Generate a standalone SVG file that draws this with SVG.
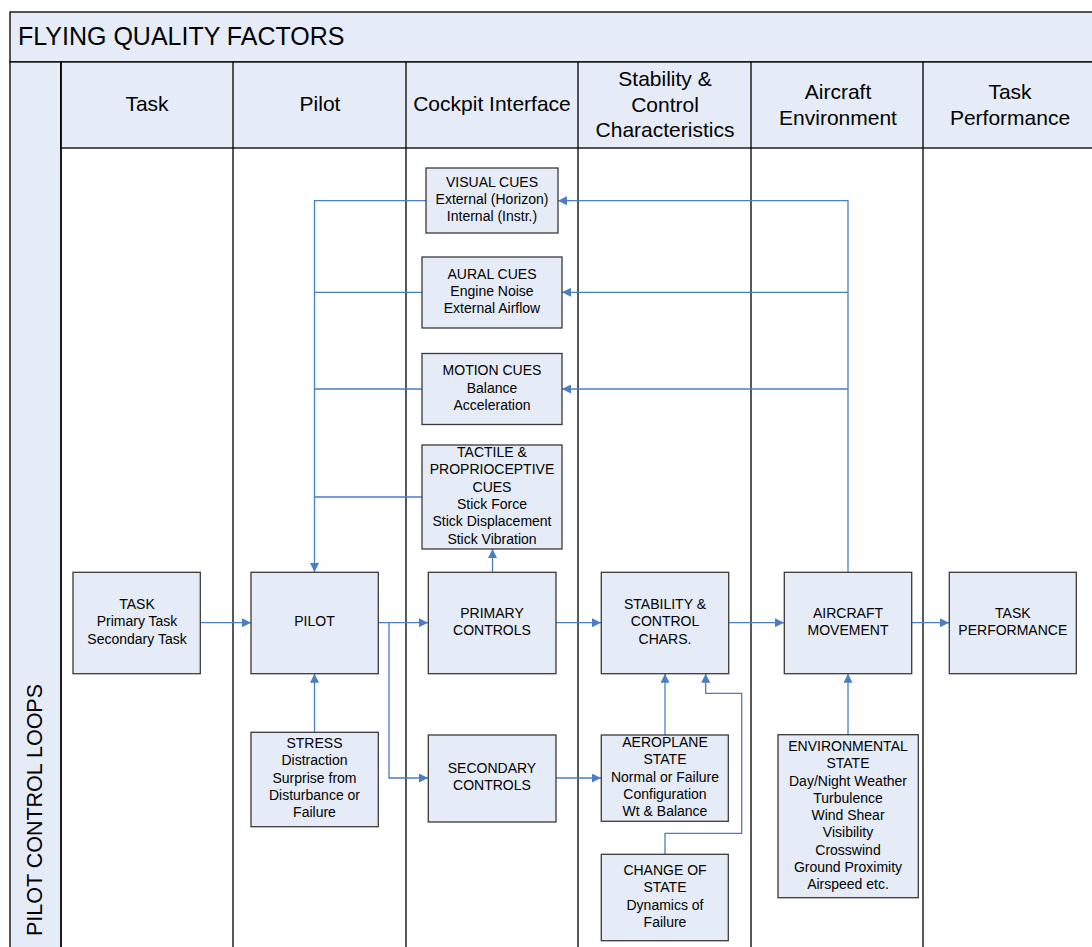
<svg xmlns="http://www.w3.org/2000/svg" width="1092" height="947" viewBox="0 0 1092 947">
<style>
.band{fill:#E6ECF7;stroke:#000;stroke-width:1.3}
.grid{stroke:#000;stroke-width:1.3;fill:none}
.node rect{fill:#E6ECF7;stroke:#3A3A3A;stroke-width:1.3}
.node text{font-family:"Liberation Sans",Arial,sans-serif;font-size:14px;fill:#000;text-anchor:middle}
.hdr{font-family:"Liberation Sans",Arial,sans-serif;font-size:21px;fill:#000;text-anchor:middle}
.conn path{fill:none;stroke:#4A7EC4;stroke-width:1.3}
.arr{marker-end:url(#ah)}
</style>
<defs>
<marker id="ah" viewBox="0 0 10 10" refX="10" refY="5" markerWidth="10" markerHeight="9" markerUnits="userSpaceOnUse" orient="auto">
<path d="M0,0 L10,5 L0,10 z" fill="#4A7EC4"/>
</marker>
</defs>
<rect width="1092" height="947" fill="#fff"/>
<g id="frame">
<rect class="band" x="10" y="12" width="1100" height="50"/>
<rect class="band" x="10" y="62" width="51" height="900"/>
<rect class="band" x="61" y="62" width="1050" height="86"/>
<path class="grid" d="M61,62V960 M233,62V960 M406,62V960 M578,62V960 M751,62V960 M923,62V960"/>
<text x="18" y="45" font-family="'Liberation Sans',Arial,sans-serif" font-size="25">FLYING QUALITY FACTORS</text>
<text class="hdr" x="147" y="111">Task</text>
<text class="hdr" x="320" y="111">Pilot</text>
<text class="hdr" x="492" y="111">Cockpit Interface</text>
<text class="hdr" x="665" y="86">Stability &amp;<tspan x="665" dy="25.5">Control</tspan><tspan x="665" dy="25.5">Characteristics</tspan></text>
<text class="hdr" x="838" y="99">Aircraft<tspan x="838" dy="25.5">Environment</tspan></text>
<text class="hdr" x="1010" y="99">Task<tspan x="1010" dy="25.5">Performance</tspan></text>
<text transform="translate(42,810) rotate(-90)" text-anchor="middle" font-family="'Liberation Sans',Arial,sans-serif" font-size="21.5">PILOT CONTROL LOOPS</text>
</g>
<g class="conn" id="connectors">
<path class="arr" d="M200,622.7H251"/>
<path class="arr" d="M378,622.7H428"/>
<path class="arr" d="M389,622.7V778H428"/>
<path class="arr" d="M314.5,732V673.7"/>
<path class="arr" d="M426,200.7H314.5V572"/>
<path d="M422,292.3H314.5 M422,389H314.5 M422,497H314.5"/>
<path class="arr" d="M492.5,572V549"/>
<path class="arr" d="M556,622.7H601"/>
<path class="arr" d="M729,622.7H784"/>
<path class="arr" d="M912,622.7H949"/>
<path class="arr" d="M556,778H601"/>
<path class="arr" d="M665,735V673.7"/>
<path class="arr" d="M665,854V833.3H741.7V693.3H705.7V673.7"/>
<path class="arr" d="M848,734.7V673.7"/>
<path class="arr" d="M848,572V200.7H558"/>
<path class="arr" d="M848,292.3H562"/>
<path class="arr" d="M848,389H562"/>
</g>
<g id="visual" class="node"><rect x="426" y="168" width="132" height="65"/><text x="492" y="187">VISUAL CUES<tspan x="492" dy="17">External (Horizon)</tspan><tspan x="492" dy="17">Internal (Instr.)</tspan></text></g>
<g id="aural" class="node"><rect x="422" y="257" width="140" height="71"/><text x="492" y="279">AURAL CUES<tspan x="492" dy="17">Engine Noise</tspan><tspan x="492" dy="17">External Airflow</tspan></text></g>
<g id="motion" class="node"><rect x="422" y="353.5" width="140" height="71"/><text x="492" y="375">MOTION CUES<tspan x="492" dy="17.5">Balance</tspan><tspan x="492" dy="17.5">Acceleration</tspan></text></g>
<g id="tactile" class="node"><rect x="422" y="445" width="140" height="104"/><text x="492" y="457">TACTILE &amp;<tspan x="492" dy="17.3">PROPRIOCEPTIVE</tspan><tspan x="492" dy="17.3">CUES</tspan><tspan x="492" dy="17.3">Stick Force</tspan><tspan x="492" dy="17.3">Stick Displacement</tspan><tspan x="492" dy="17.3">Stick Vibration</tspan></text></g>
<g id="task" class="node"><rect x="73" y="572.3" width="127.3" height="101.4"/><text x="137" y="609">TASK<tspan x="137" dy="17.3">Primary Task</tspan><tspan x="137" dy="17.3">Secondary Task</tspan></text></g>
<g id="pilot" class="node"><rect x="251" y="572.3" width="127.3" height="101.4"/><text x="314.5" y="626">PILOT</text></g>
<g id="stress" class="node"><rect x="251" y="732.3" width="127.3" height="94.4"/><text x="314.5" y="748">STRESS<tspan x="314.5" dy="17.3">Distraction</tspan><tspan x="314.5" dy="17.3">Surprise from</tspan><tspan x="314.5" dy="17.3">Disturbance or</tspan><tspan x="314.5" dy="17.3">Failure</tspan></text></g>
<g id="primary" class="node"><rect x="428.3" y="572.3" width="127.7" height="101.4"/><text x="492" y="618">PRIMARY<tspan x="492" dy="17.3">CONTROLS</tspan></text></g>
<g id="secondary" class="node"><rect x="428.3" y="735" width="127.7" height="87"/><text x="492" y="773">SECONDARY<tspan x="492" dy="17.3">CONTROLS</tspan></text></g>
<g id="stability" class="node"><rect x="601.3" y="572.3" width="127.4" height="101.4"/><text x="665" y="609">STABILITY &amp;<tspan x="665" dy="17.3">CONTROL</tspan><tspan x="665" dy="17.3">CHARS.</tspan></text></g>
<g id="aeroplane" class="node"><rect x="601.3" y="735" width="127" height="86.3"/><text x="665" y="747">AEROPLANE<tspan x="665" dy="17.3">STATE</tspan><tspan x="665" dy="17.3">Normal or Failure</tspan><tspan x="665" dy="17.3">Configuration</tspan><tspan x="665" dy="17.3">Wt &amp; Balance</tspan></text></g>
<g id="change" class="node"><rect x="601.3" y="854.3" width="127" height="86.4"/><text x="665" y="875">CHANGE OF<tspan x="665" dy="17.3">STATE</tspan><tspan x="665" dy="17.3">Dynamics of</tspan><tspan x="665" dy="17.3">Failure</tspan></text></g>
<g id="aircraft" class="node"><rect x="784.3" y="572.3" width="127.4" height="101.4"/><text x="848" y="618">AIRCRAFT<tspan x="848" dy="17.3">MOVEMENT</tspan></text></g>
<g id="taskperf" class="node"><rect x="949.3" y="572.3" width="127" height="101.4"/><text x="1012.8" y="618">TASK<tspan x="1012.8" dy="17.3">PERFORMANCE</tspan></text></g>
<g id="environment" class="node"><rect x="778" y="734.7" width="140.3" height="163"/><text x="848" y="751">ENVIRONMENTAL<tspan x="848" dy="17.25">STATE</tspan><tspan x="848" dy="17.25">Day/Night Weather</tspan><tspan x="848" dy="17.25">Turbulence</tspan><tspan x="848" dy="17.25">Wind Shear</tspan><tspan x="848" dy="17.25">Visibility</tspan><tspan x="848" dy="17.25">Crosswind</tspan><tspan x="848" dy="17.25">Ground Proximity</tspan><tspan x="848" dy="17.25">Airspeed etc.</tspan></text></g>
</svg>
